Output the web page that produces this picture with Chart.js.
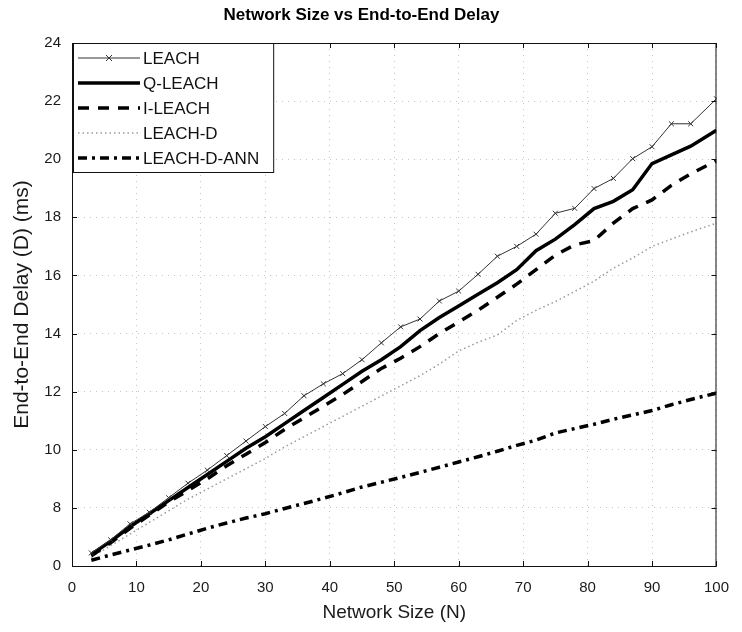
<!DOCTYPE html>
<html>
<head>
<meta charset="utf-8">
<script src="https://cdn.jsdelivr.net/npm/chart.js"></script>
<style>
  html, body { margin: 0; padding: 0; background: #fff; }
  #caixa { width: 742px; height: 632px; position: relative; }
</style>
</head>
<body>
<div id="caixa"><canvas id="grafico"></canvas></div>
<script>
// ---------- Dados ----------
const tamanhoRede = [3, 6, 9, 12, 15, 18, 21, 24, 27, 30, 33, 36, 39, 42, 45, 48, 51,
  54, 57, 60, 63, 66, 69, 72, 75, 78, 81, 84, 87, 90, 93, 96, 100];

const leach = [6.45, 6.9, 7.45, 7.85, 8.35, 8.85, 9.3, 9.8, 10.3, 10.8, 11.25, 11.86, 12.27,
  12.62, 13.1, 13.68, 14.23, 14.5, 15.12, 15.46, 16.04, 16.66, 17.0, 17.42, 18.14, 18.31,
  18.99, 19.34, 20.02, 20.43, 21.22, 21.22, 22.08];
const qLeach = [6.4, 6.85, 7.35, 7.8, 8.25, 8.7, 9.15, 9.6, 10.05, 10.45, 10.9, 11.35, 11.8,
  12.25, 12.7, 13.1, 13.55, 14.1, 14.55, 14.95, 15.35, 15.75, 16.2, 16.85, 17.25, 17.75,
  18.3, 18.55, 18.95, 19.85, 20.15, 20.45, 21.0];
const iLeach = [6.35, 6.8, 7.3, 7.75, 8.2, 8.6, 9.0, 9.45, 9.85, 10.25, 10.7, 11.1, 11.5,
  11.9, 12.35, 12.8, 13.15, 13.55, 14.0, 14.4, 14.8, 15.25, 15.7, 16.2, 16.7, 17.05, 17.2,
  17.8, 18.3, 18.6, 19.1, 19.5, 19.95];
const leachD = [6.3, 6.7, 7.1, 7.5, 7.9, 8.3, 8.65, 9.0, 9.35, 9.7, 10.1, 10.45, 10.8, 11.15,
  11.5, 11.85, 12.2, 12.55, 12.95, 13.4, 13.7, 13.95, 14.45, 14.8, 15.1, 15.45, 15.8, 16.25,
  16.6, 17.0, 17.25, 17.5, 17.8];
const leachDAnn = [6.2, 6.38, 6.55, 6.72, 6.9, 7.1, 7.3, 7.48, 7.65, 7.8, 7.98, 8.15, 8.33,
  8.52, 8.72, 8.88, 9.05, 9.22, 9.4, 9.58, 9.76, 9.95, 10.15, 10.33, 10.58, 10.73, 10.88,
  11.05, 11.2, 11.35, 11.55, 11.73, 11.95];

const rotulosY = ["0", "8", "10", "12", "14", "16", "18", "20", "22", "24"];
const nomes = ["LEACH", "Q-LEACH", "I-LEACH", "LEACH-D", "LEACH-D-ANN"];

// ---------- Helpers ----------
const FONTE = "'Liberation Sans', Arial, sans-serif";
const pares = (ys) => ys.map((y, i) => ({ x: tamanhoRede[i], y }));

// moldura + marcas internas (estilo MATLAB)
const moldura = {
  id: "moldura",
  afterDatasetsDraw(chart) {
    const { ctx, chartArea: a, scales } = chart;
    ctx.save();
    ctx.strokeStyle = "#111";
    ctx.lineWidth = 1;
    ctx.setLineDash([]);
    ctx.strokeRect(a.left + 0.5, a.top + 0.5, a.right - a.left - 1, a.bottom - a.top);
    const t = 5;
    ctx.beginPath();
    scales.x.ticks.forEach((tk) => {
      const px = Math.round(scales.x.getPixelForValue(tk.value)) + 0.5;
      ctx.moveTo(px, a.bottom); ctx.lineTo(px, a.bottom - t);
      ctx.moveTo(px, a.top); ctx.lineTo(px, a.top + t);
    });
    scales.y.ticks.forEach((tk) => {
      const py = Math.round(scales.y.getPixelForValue(tk.value)) + 0.5;
      ctx.moveTo(a.left, py); ctx.lineTo(a.left + t, py);
      ctx.moveTo(a.right, py); ctx.lineTo(a.right - t, py);
    });
    ctx.stroke();
    ctx.restore();
  },
};

// legenda dentro da área do gráfico, canto superior esquerdo
const legendaInterna = {
  id: "legendaInterna",
  afterDraw(chart) {
    const { ctx, chartArea: a } = chart;
    const dss = chart.data.datasets;
    ctx.save();
    ctx.font = "17px " + FONTE;
    const larguraTexto = Math.max(...dss.map((d) => ctx.measureText(d.label).width));
    const x0 = a.left + 1, y0 = a.top;
    const amostraIni = x0 + 5, amostraFim = x0 + 67, texto = x0 + 70;
    const passo = 25;
    const w = texto + larguraTexto + 14 - x0;
    const h = passo * dss.length + 4;
    ctx.fillStyle = "#fff";
    ctx.fillRect(x0, y0, w, h);
    ctx.strokeStyle = "#111";
    ctx.lineWidth = 1;
    ctx.strokeRect(x0 + 0.5, y0 + 0.5, w, h);
    dss.forEach((d, i) => {
      const y = y0 + 15 + i * passo;
      ctx.save();
      ctx.strokeStyle = d.borderColor;
      ctx.lineWidth = d.borderWidth;
      ctx.setLineDash(d.borderDash || []);
      ctx.beginPath();
      ctx.moveTo(amostraIni, y);
      ctx.lineTo(amostraFim, y);
      ctx.stroke();
      if (d.pointRadius > 0) {
        const cx = (amostraIni + amostraFim) / 2, r = 3;
        ctx.setLineDash([]);
        ctx.lineWidth = 1;
        ctx.beginPath();
        ctx.moveTo(cx - r, y - r); ctx.lineTo(cx + r, y + r);
        ctx.moveTo(cx - r, y + r); ctx.lineTo(cx + r, y - r);
        ctx.stroke();
      }
      ctx.restore();
      ctx.fillStyle = "#111";
      ctx.textBaseline = "middle";
      ctx.fillText(d.label, texto, y + 1);
    });
    ctx.restore();
  },
};

// ---------- Gráfico ----------
new Chart(document.getElementById("grafico"), {
  type: "line",
  data: {
    datasets: [
      { label: nomes[0], data: pares(leach), borderColor: "#333", borderWidth: 1,
        pointStyle: "crossRot", pointRadius: 3.5, pointBorderWidth: 1, pointBorderColor: "#333" },
      { label: nomes[1], data: pares(qLeach), borderColor: "#000", borderWidth: 3.5, pointRadius: 0 },
      { label: nomes[2], data: pares(iLeach), borderColor: "#000", borderWidth: 3.5,
        borderDash: [11, 9], pointRadius: 0 },
      { label: nomes[3], data: pares(leachD), borderColor: "#9a9a9a", borderWidth: 1.5,
        borderDash: [1.5, 3], pointRadius: 0 },
      { label: nomes[4], data: pares(leachDAnn), borderColor: "#000", borderWidth: 3.5,
        borderDash: [9, 5, 3, 5], pointRadius: 0 },
    ],
  },
  options: {
    responsive: true,
    maintainAspectRatio: false,
    animation: false,
    devicePixelRatio: 1,
    layout: { padding: { left: 0, right: 19, top: 0, bottom: 0 } },
    elements: { line: { tension: 0, fill: false } },
    plugins: {
      legend: { display: false },
      tooltip: { enabled: false },
      title: {
        display: true,
        text: "Network Size vs End-to-End Delay",
        color: "#000",
        font: { family: FONTE, size: 17, weight: "bold" },
        padding: { top: 5, bottom: 17.6 },
      },
    },
    scales: {
      x: {
        type: "linear",
        min: 0,
        max: 100,
        afterFit: (s) => { s.height = 66; },
        ticks: { stepSize: 10, color: "#1a1a1a", padding: 13, font: { family: FONTE, size: 15 } },
        grid: { color: "#c4c4c4", lineWidth: 1, drawTicks: false },
        border: { display: false, dash: [1, 5] },
        title: {
          display: true,
          text: "Network Size (N)",
          color: "#1a1a1a",
          font: { family: FONTE, size: 19 },
          padding: { top: 0, bottom: 8 },
        },
      },
      y: {
        type: "linear",
        min: 6,
        max: 24,
        afterFit: (s) => { s.width = 72; },
        ticks: {
          stepSize: 2,
          color: "#1a1a1a",
          padding: 11,
          font: { family: FONTE, size: 15 },
          callback: (v, i) => rotulosY[i],
        },
        grid: { color: "#c4c4c4", lineWidth: 1, drawTicks: false },
        border: { display: false, dash: [1, 5] },
        title: {
          display: true,
          text: "End-to-End Delay (D) (ms)",
          color: "#1a1a1a",
          font: { family: FONTE, size: 21 },
          padding: { top: 10, bottom: 0 },
        },
      },
    },
  },
  plugins: [moldura, legendaInterna],
});
</script>
</body>
</html>
